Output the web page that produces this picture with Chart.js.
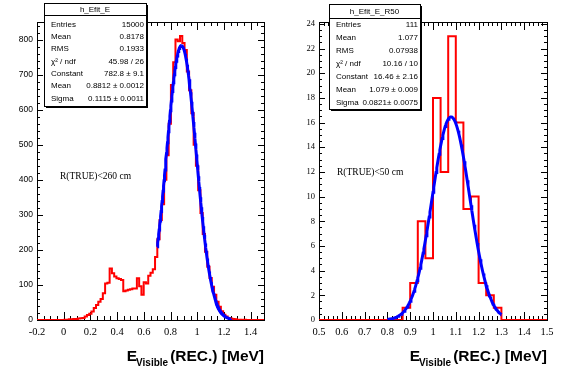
<!DOCTYPE html>
<html>
<head>
<meta charset="utf-8">
<script src="https://cdn.jsdelivr.net/npm/chart.js@4.4.0/dist/chart.umd.min.js"></script>
<style>
  body { margin: 0; background: #fff; }
  #wrap { position: relative; width: 567px; height: 384px; }
  canvas { position: absolute; top: 0; }
</style>
</head>
<body>
<div id="wrap">
  <canvas id="left_chart" width="283" height="384" style="left:0"></canvas>
  <canvas id="right_chart" width="284" height="384" style="left:283px"></canvas>
</div>
<script>
// h_Efit_E : 100 bins from -0.2 to 1.5
const LEFT_RANGE = [-0.2, 1.5]
const LEFT_COUNTS = [
  0, 0, 0, 0, 0, 0, 0, 0, 0, 0,
  0, 0, 1, 1, 2, 2, 3, 3, 4, 5,
  6, 10, 14, 18, 24, 34, 43, 52, 60, 76,
  104, 106, 147, 133, 124, 119, 117, 114, 82, 84,
  86, 88, 90, 90, 119, 96, 72, 108, 104, 126,
  135, 145, 180, 230, 285, 330, 400, 470, 560, 670,
  735, 800, 795, 810, 790, 770, 709, 655, 590, 500,
  440, 370, 305, 245, 195, 152, 120, 95, 72, 52,
  38, 25, 15, 10, 6, 4, 3, 2, 1, 1,
  0, 1, 0, 0, 0, 0, 0, 0, 0, 0
]
const LEFT_FIT = [782.8, 0.8812, 0.1115] // constant, mean, sigma
const LEFT_FIT_RANGE = [0.7, 1.25]
const LEFT_X_TICKS = [-0.2, 0, 0.2, 0.4, 0.6, 0.8, 1, 1.2, 1.4]
const LEFT_Y_TICKS = [0, 100, 200, 300, 400, 500, 600, 700, 800]
const LEFT_Y_MAX = 850
const LEFT_STATS = [
  ['Entries', '15000'],
  ['Mean', '0.8178'],
  ['RMS', '0.1933'],
  ['\u03c7\u00b2 / ndf', '45.98 / 26'],
  ['Constant', '782.8 \u00b1 9.1'],
  ['Mean', '0.8812 \u00b1 0.0012'],
  ['Sigma', '0.1115 \u00b1 0.0011']
]

// h_Efit_E_R50 : 30 bins from 0.5 to 1.5
const RIGHT_RANGE = [0.5, 1.5]
const RIGHT_COUNTS = [
  0, 0, 0, 0, 0, 0, 0, 0, 0, 0,
  0, 1, 3, 8, 5, 18, 12, 23, 16, 9,
  10, 3, 2, 1, 0, 0, 0, 0, 0, 0
]
const RIGHT_FIT = [16.46, 1.079, 0.0821]
const RIGHT_FIT_RANGE = [0.8, 1.3]
const RIGHT_X_TICKS = [0.5, 0.6, 0.7, 0.8, 0.9, 1, 1.1, 1.2, 1.3, 1.4, 1.5]
const RIGHT_Y_TICKS = [0, 2, 4, 6, 8, 10, 12, 14, 16, 18, 20, 22, 24]
const RIGHT_Y_MAX = 24.15
const RIGHT_STATS = [
  ['Entries', '111'],
  ['Mean', '1.077'],
  ['RMS', '0.07938'],
  ['\u03c7\u00b2 / ndf', '10.16 / 10'],
  ['Constant', '16.46 \u00b1 2.16'],
  ['Mean', '1.079 \u00b1 0.009'],
  ['Sigma', '0.0821\u00b1 0.0075']
]

function histPoints (counts, range) {
  const w = (range[1] - range[0]) / counts.length
  const pts = counts.map((c, i) => ({ x: range[0] + i * w, y: c }))
  pts.push({ x: range[1], y: counts[counts.length - 1] })
  return pts
}

// fitted gaussian, evaluated from the parameters printed in the stats box
function fitPoints (p, range) {
  const pts = []
  const n = 150
  for (let i = 0; i <= n; i++) {
    const x = range[0] + ((range[1] - range[0]) * i) / n
    const t = (x - p[1]) / p[2]
    pts.push({ x: x, y: p[0] * Math.exp(-0.5 * t * t) })
  }
  return pts
}

function fmt (v) {
  return String(Math.round(v * 10) / 10)
}

function drawTickSet (ctx, a, values, len, horizontal) {
  values.forEach(v => {
    if (horizontal) {
      const px = Math.round(ctx.chart.scales.x.getPixelForValue(v)) + 0.5
      ctx.moveTo(px, a.bottom)
      ctx.lineTo(px, a.bottom - len)
      ctx.moveTo(px, a.top)
      ctx.lineTo(px, a.top + len)
    } else {
      const py = Math.round(ctx.chart.scales.y.getPixelForValue(v)) + 0.5
      ctx.moveTo(a.left, py)
      ctx.lineTo(a.left + len, py)
      ctx.moveTo(a.right, py)
      ctx.lineTo(a.right - len, py)
    }
  })
}

function steps (from, to, step) {
  const out = []
  for (let v = from; v <= to + 1e-9; v += step) out.push(v)
  return out
}

function makePanel (id, cfg) {
  const frame = {
    id: 'rootFrame',
    beforeDatasetsDraw (chart) {
      const ctx = chart.ctx
      const a = chart.chartArea
      ctx.save()
      ctx.strokeStyle = '#000'
      ctx.lineWidth = 1
      ctx.strokeRect(a.left + 0.5, a.top + 0.5, a.right - a.left, a.bottom - a.top)
      ctx.beginPath()
      ctx.chart = chart
      drawTickSet(ctx, a, steps(cfg.range[0], cfg.range[1], cfg.xMinor), 4, true)
      drawTickSet(ctx, a, cfg.xTicks, 8, true)
      drawTickSet(ctx, a, steps(0, cfg.yMax, cfg.yMinor), 3, false)
      drawTickSet(ctx, a, cfg.yTicks, 6, false)
      ctx.stroke()
      ctx.restore()
    },
    afterDraw (chart) {
      const ctx = chart.ctx
      const a = chart.chartArea
      ctx.save()

      // stats box
      const b = cfg.box
      ctx.fillStyle = '#000'
      ctx.fillRect(b.x + 2, b.y + 2, b.w, b.h)
      ctx.fillStyle = '#fff'
      ctx.fillRect(b.x, b.y, b.w, b.h)
      ctx.strokeStyle = '#000'
      ctx.lineWidth = 1
      ctx.strokeRect(b.x + 0.5, b.y + 0.5, b.w, b.h)
      ctx.beginPath()
      ctx.moveTo(b.x, b.sep + 0.5)
      ctx.lineTo(b.x + b.w, b.sep + 0.5)
      ctx.stroke()
      ctx.fillStyle = '#000'
      ctx.font = '8px "Liberation Sans", Arial, sans-serif'
      ctx.textBaseline = 'middle'
      ctx.textAlign = 'center'
      ctx.fillText(cfg.name, b.x + b.w / 2, b.titleY)
      cfg.stats.forEach((row, i) => {
        const y = b.row0 + i * b.rowStep
        ctx.textAlign = 'left'
        ctx.fillText(row[0], b.x + 7, y)
        ctx.textAlign = 'right'
        ctx.fillText(row[1], b.x + b.w - 2, y)
      })

      // region note
      ctx.textAlign = 'left'
      ctx.font = '9.5px "Liberation Serif", "Times New Roman", serif'
      ctx.fillText(cfg.note, cfg.noteX, cfg.noteY)

      // axis title  E_Visible (REC.) [MeV]
      ctx.textBaseline = 'alphabetic'
      ctx.textAlign = 'right'
      ctx.font = 'bold 15.5px "Liberation Sans", Arial, sans-serif'
      const tail = '(REC.) [MeV]'
      ctx.fillText(tail, a.right, 361)
      let x = a.right - ctx.measureText(tail).width - 2
      ctx.font = 'bold 10px "Liberation Sans", Arial, sans-serif'
      ctx.fillText('Visible', x, 366)
      x -= ctx.measureText('Visible').width
      ctx.font = 'bold 15.5px "Liberation Sans", Arial, sans-serif'
      ctx.fillText('E', x + 1, 361)
      ctx.restore()
    }
  }

  return new Chart(document.getElementById(id).getContext('2d'), {
    type: 'line',
    data: {
      datasets: [
        {
          data: fitPoints(cfg.fit, cfg.fitRange),
          borderColor: '#0000ff',
          borderWidth: 3,
          pointRadius: 0,
          tension: 0,
          fill: false
        },
        {
          data: histPoints(cfg.counts, cfg.range),
          borderColor: '#ff0000',
          borderWidth: 2,
          pointRadius: 0,
          stepped: true,
          fill: false
        }
      ]
    },
    options: {
      responsive: false,
      animation: false,
      layout: { padding: { left: 0, right: cfg.padRight, top: 22, bottom: 0 } },
      plugins: {
        legend: { display: false },
        tooltip: { enabled: false },
        title: { display: false }
      },
      scales: {
        x: {
          type: 'linear',
          min: cfg.range[0],
          max: cfg.range[1],
          grid: { display: false, drawTicks: false },
          border: { display: false },
          afterBuildTicks: s => { s.ticks = cfg.xTicks.map(v => ({ value: v })) },
          afterFit: s => { s.height = 64 },
          ticks: {
            autoSkip: false,
            maxRotation: 0,
            padding: 6,
            color: '#000',
            font: { family: '"Liberation Serif", "Times New Roman", serif', size: 10.5 },
            callback: v => fmt(v)
          }
        },
        y: {
          type: 'linear',
          min: 0,
          max: cfg.yMax,
          grid: { display: false, drawTicks: false },
          border: { display: false },
          afterBuildTicks: s => { s.ticks = cfg.yTicks.map(v => ({ value: v })) },
          afterFit: s => { s.width = cfg.yWidth },
          ticks: {
            autoSkip: false,
            padding: 4,
            color: '#000',
            font: { family: cfg.yFont, size: 8.5 },
            callback: v => String(v)
          }
        }
      }
    },
    plugins: [frame]
  })
}

makePanel('left_chart', {
  name: 'h_Efit_E',
  counts: LEFT_COUNTS,
  range: LEFT_RANGE,
  fit: LEFT_FIT,
  fitRange: LEFT_FIT_RANGE,
  xTicks: LEFT_X_TICKS,
  yTicks: LEFT_Y_TICKS,
  yMax: LEFT_Y_MAX,
  xMinor: 0.05,
  yMinor: 20,
  yWidth: 37,
  padRight: 19,
  yFont: '"Liberation Sans", Arial, sans-serif',
  stats: LEFT_STATS,
  box: { x: 44, y: 3, w: 102, h: 103, sep: 15, titleY: 10, row0: 24.5, rowStep: 12.3 },
  note: 'R(TRUE)<260 cm',
  noteX: 60,
  noteY: 176
})

makePanel('right_chart', {
  name: 'h_Efit_E_R50',
  counts: RIGHT_COUNTS,
  range: RIGHT_RANGE,
  fit: RIGHT_FIT,
  fitRange: RIGHT_FIT_RANGE,
  xTicks: RIGHT_X_TICKS,
  yTicks: RIGHT_Y_TICKS,
  yMax: RIGHT_Y_MAX,
  xMinor: 0.02,
  yMinor: 0.5,
  yWidth: 36,
  padRight: 20,
  yFont: '"Liberation Serif", "Times New Roman", serif',
  stats: RIGHT_STATS,
  box: { x: 46, y: 4, w: 91, h: 105, sep: 18, titleY: 12, row0: 24.5, rowStep: 13 },
  note: 'R(TRUE)<50 cm',
  noteX: 54,
  noteY: 172
})
</script>
</body>
</html>
